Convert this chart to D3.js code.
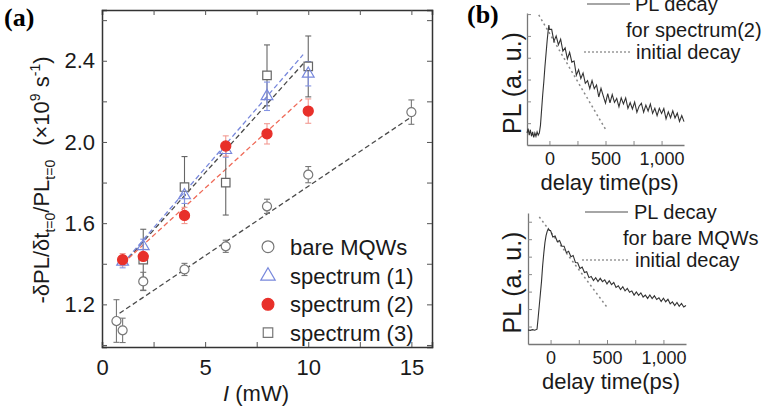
<!DOCTYPE html>
<html>
<head>
<meta charset="utf-8">
<script src="https://cdn.jsdelivr.net/npm/d3@7"></script>
<style>
  body { margin: 0; background: #fff; }
  svg { display: block; font-family: "Liberation Sans", Arial, sans-serif; }
</style>
</head>
<body>
<div id="mount"></div>
<script>
'use strict';

// (a) initial decay rate vs excitation power
const powerBare = [0.7, 1, 2, 4, 6, 8, 10, 15];
const rateBare  = [1.118, 1.072, 1.313, 1.372, 1.486, 1.683, 1.839, 2.147];
const errBare   = [0.105, 0.06, 0.045, 0.03, 0.03, 0.035, 0.04, 0.06];

const powerSpec = [1, 2, 4, 6, 8, 10];
const rateSpec1 = [1.41, 1.486, 1.737, 1.96, 2.225, 2.336];
const errSpec1  = [0.03, 0.035, 0.04, 0.035, 0.07, 0.06];
const rateSpec2 = [1.42, 1.436, 1.638, 1.98, 2.04, 2.152];
const errSpec2  = [0.03, 0.035, 0.04, 0.05, 0.05, 0.06];

const powerSpec3 = [2, 4, 6, 8, 10];
const rateSpec3  = [1.42, 1.778, 1.80, 2.328, 2.372];
const errSpec3   = [0.15, 0.15, 0.16, 0.15, 0.15];

// dashed linear fits, end points
const fitBareX  = [0.85, 14.95], fitBareY  = [1.156, 2.12];
const fitSpec1X = [1.0, 9.75],   fitSpec1Y = [1.40, 2.43];
const fitSpec2X = [1.0, 9.7],    fitSpec2Y = [1.40, 2.21];
const fitSpec3X = [1.3, 9.75],   fitSpec3Y = [1.43, 2.385];

const legendLabels = ['bare MQWs', 'spectrum (1)', 'spectrum (2)', 'spectrum (3)'];
const xTicksA = [0, 2.5, 5, 7.5, 10, 12.5, 15];
const yTicksA = [1.0, 1.2, 1.4, 1.6, 1.8, 2.0, 2.2, 2.4, 2.6];

// (b) PL decay traces (a. u.)
const tTop = [-200, -190, -180, -170, -160, -150, -140, -130, -120, -110, -100, -90, -80, -70, -60, -50, -40, -30, -20, -10, -5,
  0, 20, 40, 60, 80, 100, 120, 140, 160, 180, 200, 220, 240, 260, 280, 300, 320, 340, 360, 380, 400,
  420, 440, 460, 480, 500, 520, 540, 560, 580, 600, 620, 640, 660, 680, 700, 720, 740, 760, 780, 800,
  820, 840, 860, 880, 900, 920, 940, 960, 980, 1000, 1020, 1040, 1060, 1080, 1100, 1120, 1140, 1160, 1180, 1200];
const plTop = [0.55, 0.75, 0.45, 0.7, 0.4, 0.6, 0.35, 0.55, 0.4, 0.6, 0.45, 0.55, 0.9, 1.6, 2.3, 2.9, 3.6, 4.2, 4.8, 5.3, 5.5,
  5.30, 5.30, 4.75, 5.00, 4.60, 4.85, 4.30, 4.45, 3.95, 4.25, 3.80, 3.85, 3.20, 3.45, 3.05, 3.30, 2.83, 2.95, 2.58, 2.95, 2.58,
  2.75, 2.20, 2.60, 2.25, 1.92, 2.35, 1.93, 2.31, 1.95, 2.13, 1.75, 2.16, 1.88, 2.16, 1.68, 1.94, 1.65, 1.97, 1.50, 1.78,
  1.91, 1.50, 1.83, 1.56, 1.88, 1.45, 1.68, 1.35, 1.68, 1.45, 1.67, 1.20, 1.52, 1.25, 1.57, 1.24, 1.46, 1.08, 1.35, 1.07];
const initTopT = [-95, 500], initTopPL = [5.96, 0.72];

const tBot = [-200, -180, -160, -140, -120, -110, -100, -90, -80, -70, -60, -50, -40, -30, -20, -10,
  0, 20, 40, 60, 80, 100, 120, 140, 160, 180, 200, 220, 240, 260, 280, 300, 320, 340, 360, 380, 400,
  420, 440, 460, 480, 500, 520, 540, 560, 580, 600, 620, 640, 660, 680, 700, 720, 740, 760, 780, 800,
  820, 840, 860, 880, 900, 920, 940, 960, 980, 1000, 1020, 1040, 1060, 1080, 1100, 1120, 1140, 1160, 1180, 1200];
const plBot = [0.8, 0.78, 0.82, 0.79, 0.85, 1.5, 2.2, 2.9, 3.6, 4.5, 5.2, 5.8, 6.2, 6.45, 6.6, 6.5,
  6.50, 6.13, 6.18, 5.85, 5.92, 5.60, 5.60, 5.23, 5.31, 5.00, 5.07, 4.67, 4.65, 4.33, 4.40, 4.09, 4.14, 3.80, 3.86, 3.63, 3.80,
  3.58, 3.76, 3.57, 3.67, 3.44, 3.62, 3.40, 3.52, 3.24, 3.33, 3.12, 3.28, 3.04, 3.18, 2.96, 3.04, 2.80, 2.98, 2.79, 2.93,
  2.69, 2.80, 2.61, 2.81, 2.60, 2.76, 2.55, 2.65, 2.43, 2.62, 2.42, 2.56, 2.30, 2.41, 2.20, 2.38, 2.16, 2.32, 2.12, 2.20];
const initBotT = [-100, 500], initBotPL = [7.28, 2.11];

const xTicksB = [0, 250, 500, 750, 1000];

const svg = d3.select('#mount').append('svg')
    .attr('width', 766)
    .attr('height', 412);

// ---------- panel (a) ----------
const x = d3.scaleLinear().domain([0, 16]).range([102, 432]);
const y = d3.scaleLinear().domain([0.99, 2.65]).range([347, 10]);

const red = '#e8302a', blue = '#7888dc', dark = '#4a4a4a';

const axA = svg.append('g');
axA.append('g')
    .attr('transform', `translate(0,${y.range()[0]})`)
    .call(d3.axisBottom(x).tickValues(xTicksA).tickSize(-5).tickPadding(12)
      .tickFormat(d => d % 5 === 0 ? d : ''));
axA.append('g')
    .attr('transform', `translate(0,${y.range()[1]})`)
    .call(d3.axisTop(x).tickValues(xTicksA).tickSize(-5).tickFormat(''));
axA.append('g')
    .attr('transform', `translate(${x.range()[0]},0)`)
    .call(d3.axisLeft(y).tickValues(yTicksA).tickSize(-5).tickPadding(7)
      .tickFormat(d => Math.round(d * 10) % 4 === 0 && d > 1.1 ? d.toFixed(1) : ''));
axA.append('g')
    .attr('transform', `translate(${x.range()[1]},0)`)
    .call(d3.axisRight(y).tickValues(yTicksA).tickSize(-5).tickFormat(''));
axA.selectAll('.domain').attr('stroke', '#333').attr('stroke-width', 1.5);
axA.selectAll('.tick line').attr('stroke', '#555');
axA.selectAll('.tick text').attr('font-size', 22).attr('fill', '#1a1a1a')
    .attr('font-family', '"Liberation Sans", Arial, sans-serif');

// fit lines
const fits = [
  { xs: fitBareX, ys: fitBareY, color: dark },
  { xs: fitSpec3X, ys: fitSpec3Y, color: dark },
  { xs: fitSpec1X, ys: fitSpec1Y, color: blue },
  { xs: fitSpec2X, ys: fitSpec2Y, color: '#ef6a58' }
];
fits.forEach(f => {
  svg.append('line')
      .attr('x1', x(f.xs[0])).attr('y1', y(f.ys[0]))
      .attr('x2', x(f.xs[1])).attr('y2', y(f.ys[1]))
      .attr('stroke', f.color)
      .attr('stroke-width', 1.3)
      .attr('stroke-dasharray', '5,3');
});

function errorBars(xs, ys, es, color) {
  const g = svg.append('g').attr('stroke', color).attr('stroke-width', 1.1).attr('fill', 'none');
  xs.forEach((xv, i) => {
    const cx = x(xv), top = y(ys[i] + es[i]), bot = y(ys[i] - es[i]);
    g.append('line').attr('x1', cx).attr('x2', cx).attr('y1', top).attr('y2', bot);
    g.append('line').attr('x1', cx - 3).attr('x2', cx + 3).attr('y1', top).attr('y2', top);
    g.append('line').attr('x1', cx - 3).attr('x2', cx + 3).attr('y1', bot).attr('y2', bot);
  });
}

errorBars(powerSpec3, rateSpec3, errSpec3, '#666');
errorBars(powerBare, rateBare, errBare, '#777');
errorBars(powerSpec, rateSpec1, errSpec1, '#8494e4');
errorBars(powerSpec, rateSpec2, errSpec2, '#f29a92');

const sym = {
  circle: d3.symbol().type(d3.symbolCircle),
  triangle: d3.symbol().type(d3.symbolTriangle),
  square: d3.symbol().type(d3.symbolSquare)
};

function markers(xs, ys, path, stroke, fill) {
  svg.append('g').selectAll('path')
      .data(xs.map((xv, i) => [xv, ys[i]]))
    .enter().append('path')
      .attr('d', path)
      .attr('transform', d => `translate(${x(d[0])},${y(d[1])})`)
      .attr('fill', fill)
      .attr('stroke', stroke)
      .attr('stroke-width', 1.2);
}

markers(powerSpec3, rateSpec3, sym.square.size(72)(), '#666', 'white');
markers(powerBare, rateBare, sym.circle.size(64)(), '#777', 'white');
markers(powerSpec, rateSpec1, sym.triangle.size(60)(), blue, 'none');
markers(powerSpec, rateSpec2, sym.circle.size(80)(), red, red);

// legend
const legY = [246.7, 276, 304.3, 332.7];
const legSym = [
  { d: sym.circle.size(110)(), stroke: '#777', fill: 'white' },
  { d: sym.triangle.size(90)(), stroke: blue, fill: 'none' },
  { d: sym.circle.size(110)(), stroke: red, fill: red },
  { d: sym.square.size(90)(), stroke: '#777', fill: 'white' }
];
legendLabels.forEach((lab, i) => {
  svg.append('path')
      .attr('d', legSym[i].d)
      .attr('transform', `translate(268,${legY[i]})`)
      .attr('fill', legSym[i].fill)
      .attr('stroke', legSym[i].stroke)
      .attr('stroke-width', 1.2);
  svg.append('text')
      .attr('x', 290).attr('y', legY[i] + 8)
      .attr('font-size', 22).attr('fill', '#1a1a1a')
      .text(lab);
});

// axis titles
const xt = svg.append('text')
    .attr('x', 256).attr('y', 401)
    .attr('text-anchor', 'middle')
    .attr('font-size', 22).attr('fill', '#1a1a1a');
xt.append('tspan').attr('font-style', 'italic').text('I');
xt.append('tspan').text(' (mW)');

const yt = svg.append('text')
    .attr('transform', 'translate(49,180) rotate(-90)')
    .attr('text-anchor', 'middle')
    .attr('font-size', 22).attr('fill', '#1a1a1a');
yt.append('tspan').text('-δPL/δt');
yt.append('tspan').attr('font-size', 14).attr('dy', 6).text('t=0');
yt.append('tspan').attr('dy', -6).text('/PL');
yt.append('tspan').attr('font-size', 14).attr('dy', 6).text('t=0');
yt.append('tspan').attr('dy', -6).attr('dx', 14).text('(×10');
yt.append('tspan').attr('font-size', 14).attr('dy', -9).text('9');
yt.append('tspan').attr('dy', 9).text(' s');
yt.append('tspan').attr('font-size', 14).attr('dy', -9).text('-1');
yt.append('tspan').attr('dy', 9).text(')');

svg.append('text')
    .attr('x', 4).attr('y', 26)
    .attr('font-family', '"Liberation Serif", "Times New Roman", serif')
    .attr('font-weight', 'bold').attr('font-size', 26)
    .text('(a)');

// ---------- panel (b) ----------
svg.append('text')
    .attr('x', 467).attr('y', 23)
    .attr('font-family', '"Liberation Serif", "Times New Roman", serif')
    .attr('font-weight', 'bold').attr('font-size', 26)
    .text('(b)');

function decayPanel(o) {
  const bx = d3.scaleLinear().domain([-200, 1200]).range([o.left, o.right]);
  const by = d3.scaleLinear().domain([0, o.ymax]).range([o.bottom, o.top]);
  const g = svg.append('g');

  g.append('g')
      .attr('transform', `translate(0,${o.bottom})`)
      .call(d3.axisBottom(bx).tickValues(xTicksB).tickSize(-4).tickSizeOuter(0).tickPadding(7)
        .tickFormat(d => d % 500 === 0 ? d3.format(',')(d) : ''));
  g.append('g')
      .attr('transform', `translate(${o.left},0)`)
      .call(d3.axisLeft(by).tickValues(o.yTicks).tickSize(-4).tickSizeOuter(0).tickFormat(''));
  g.selectAll('.domain').attr('stroke', '#777').attr('stroke-width', 1.3);
  g.selectAll('.tick line').attr('stroke', '#888');
  g.selectAll('.tick text').attr('font-size', 18).attr('fill', '#1a1a1a')
      .attr('font-family', '"Liberation Sans", Arial, sans-serif');

  // initial decay (dotted)
  g.append('line')
      .attr('x1', bx(o.initT[0])).attr('y1', by(o.initPL[0]))
      .attr('x2', bx(o.initT[1])).attr('y2', by(o.initPL[1]))
      .attr('stroke', '#888').attr('stroke-width', 1.5)
      .attr('stroke-dasharray', '2,3');

  const line = d3.line().x(d => bx(d[0])).y(d => by(d[1]));
  g.append('path')
      .datum(o.t.map((t, i) => [t, o.pl[i]]))
      .attr('d', line)
      .attr('fill', 'none')
      .attr('stroke', '#333')
      .attr('stroke-width', 1.1);

  g.append('text')
      .attr('x', (o.left + o.right) / 2 + 4).attr('y', o.bottom + 45)
      .attr('text-anchor', 'middle')
      .attr('font-size', 22).attr('fill', '#1a1a1a')
      .text('delay time(ps)');
  g.append('text')
      .attr('transform', `translate(521,${(o.top + o.bottom) / 2 + 4}) rotate(-90)`)
      .attr('text-anchor', 'middle')
      .attr('font-size', 25).attr('fill', '#1a1a1a')
      .text('PL (a. u.)');

  // legend
  const L = o.leg;
  g.append('line')
      .attr('x1', L.x1).attr('x2', L.x2).attr('y1', L.y1).attr('y2', L.y1)
      .attr('stroke', '#888').attr('stroke-width', 1.3);
  g.append('text').attr('x', L.tx).attr('y', L.y1 + 7)
      .attr('font-size', 20).attr('fill', '#1a1a1a').text('PL decay');
  g.append('text').attr('x', L.tx2).attr('y', L.y1 + 33)
      .attr('font-size', 20).attr('fill', '#1a1a1a').text(L.name);
  g.append('line')
      .attr('x1', L.x1 - 3).attr('x2', L.x2 + 2).attr('y1', L.y3).attr('y2', L.y3)
      .attr('stroke', '#999').attr('stroke-width', 1.4)
      .attr('stroke-dasharray', '2,2');
  g.append('text').attr('x', L.tx + 1).attr('y', L.y3 + 7)
      .attr('font-size', 20).attr('fill', '#1a1a1a').text('initial decay');
}

decayPanel({
  left: 527, right: 684, top: 13, bottom: 145, ymax: 6.05, yTicks: [1, 2, 3, 4, 5, 6],
  t: tTop, pl: plTop, initT: initTopT, initPL: initTopPL,
  leg: { x1: 587, x2: 630, y1: 4, tx: 635, tx2: 626, y3: 52, name: 'for spectrum(2)' }
});

decayPanel({
  left: 528, right: 686, top: 213, bottom: 344, ymax: 7.5, yTicks: [1, 2, 3, 4, 5, 6, 7],
  t: tBot, pl: plBot, initT: initBotT, initPL: initBotPL,
  leg: { x1: 585, x2: 628, y1: 212, tx: 634, tx2: 623, y3: 260, name: 'for bare MQWs' }
});
</script>
</body>
</html>
